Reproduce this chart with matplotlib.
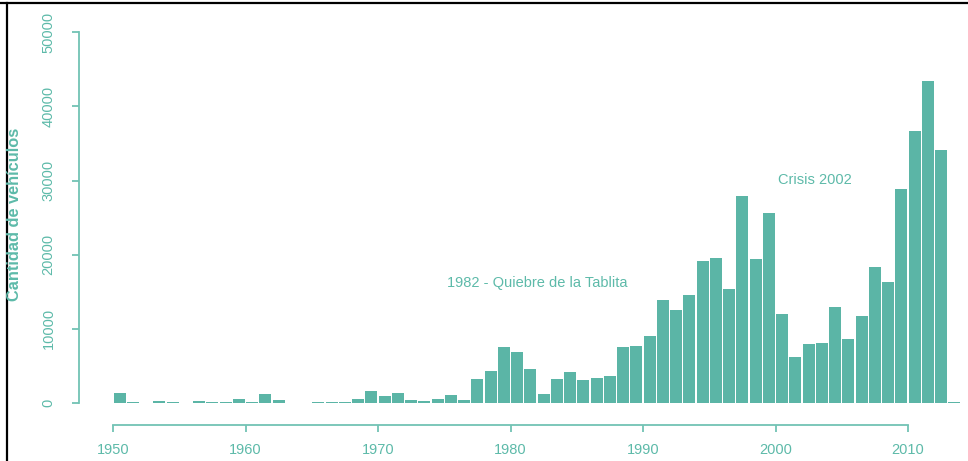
import matplotlib
matplotlib.use("Agg")
import matplotlib.pyplot as plt
from matplotlib.lines import Line2D

years = list(range(1950, 2014))
vehiculos = [
    1300, 200, 0, 300, 200, 0, 300, 200, 200, 500,      # 1950-1959
    200, 1210, 360, 0, 0, 200, 200, 200, 540, 1660,     # 1960-1969
    900, 1300, 360, 270, 580, 1120, 400, 3230, 4310, 7590,  # 1970-1979
    6830, 4540, 1210, 3230, 4130, 3100, 3320, 3640, 7590, 7720,  # 1980-1989
    9070, 13880, 12530, 14560, 19140, 19500, 15320, 27940, 19400, 25650,  # 1990-1999
    11990, 6160, 7950, 8040, 12900, 8580, 11770, 18370, 16350, 28930,  # 2000-2009
    36660, 43400, 34190, 200,  # 2010-2013
]
xticks = [1950, 1960, 1970, 1980, 1990, 2000, 2010]
yticks = [0, 10000, 20000, 30000, 40000, 50000]
annotations = [("1982 - Quiebre de la Tablita", 1982.0, 16200),
               ("Crisis 2002", 2003.0, 30100)]

BAR = "#5BB5A6"
TXT = "#5DBAA9"
AX = "#72C3B4"

plt.rcParams['font.family'] = ['Liberation Sans', 'DejaVu Sans']

W, H = 968, 461
fig = plt.figure(figsize=(W / 100, H / 100), dpi=100)
left_px, right_px, top_px, base_px = 79, 962, 32.3, 403
ax = fig.add_axes([left_px / W, (H - base_px) / H,
                   (right_px - left_px) / W, (base_px - top_px) / H])
pxyr = 13.25
x0 = 1950 - (113 - left_px) / pxyr
ax.set_xlim(x0, x0 + (right_px - left_px) / pxyr)
ax.set_ylim(0, 50000)

ax.bar([y + 0.04 for y in years], vehiculos, width=0.92, align='edge',
       color=BAR, linewidth=0, clip_on=False)

for s in ['top', 'right']:
    ax.spines[s].set_visible(False)
ax.spines['left'].set_bounds(0, 50000)
ax.spines['bottom'].set_bounds(1950, 2010)
ax.spines['bottom'].set_position(('outward', 16))
for s in ['left', 'bottom']:
    ax.spines[s].set_color(AX)
    ax.spines[s].set_linewidth(1.3)

ax.set_xticks(xticks)
ax.set_xticklabels([str(t) for t in xticks])
ax.set_yticks(yticks)
ax.set_yticklabels([str(t) for t in yticks], rotation=90, va='center')
ax.tick_params(axis='both', colors=AX, labelcolor=TXT, length=5, width=1.3,
               labelsize=10.5)
ax.tick_params(axis='x', pad=8)
ax.tick_params(axis='y', pad=12)

for label, xv, yv in annotations:
    ax.text(xv, yv, label, color=TXT, fontsize=10.5, ha='center', va='center')

fig.text(15 / W, (H - 214) / H, "Cantidad de vehículos", rotation=90,
         color=TXT, fontsize=11.8, fontweight='bold', ha='center', va='center')

# screenshot frame (top and left edges)
fig.add_artist(Line2D([0, 1], [1 - 3 / H, 1 - 3 / H], color='black', lw=1.6,
                      transform=fig.transFigure))
fig.add_artist(Line2D([7 / W, 7 / W], [0, 1 - 3 / H], color='black', lw=1.6,
                      transform=fig.transFigure))

fig.savefig("out.png", dpi=100, facecolor='white')
